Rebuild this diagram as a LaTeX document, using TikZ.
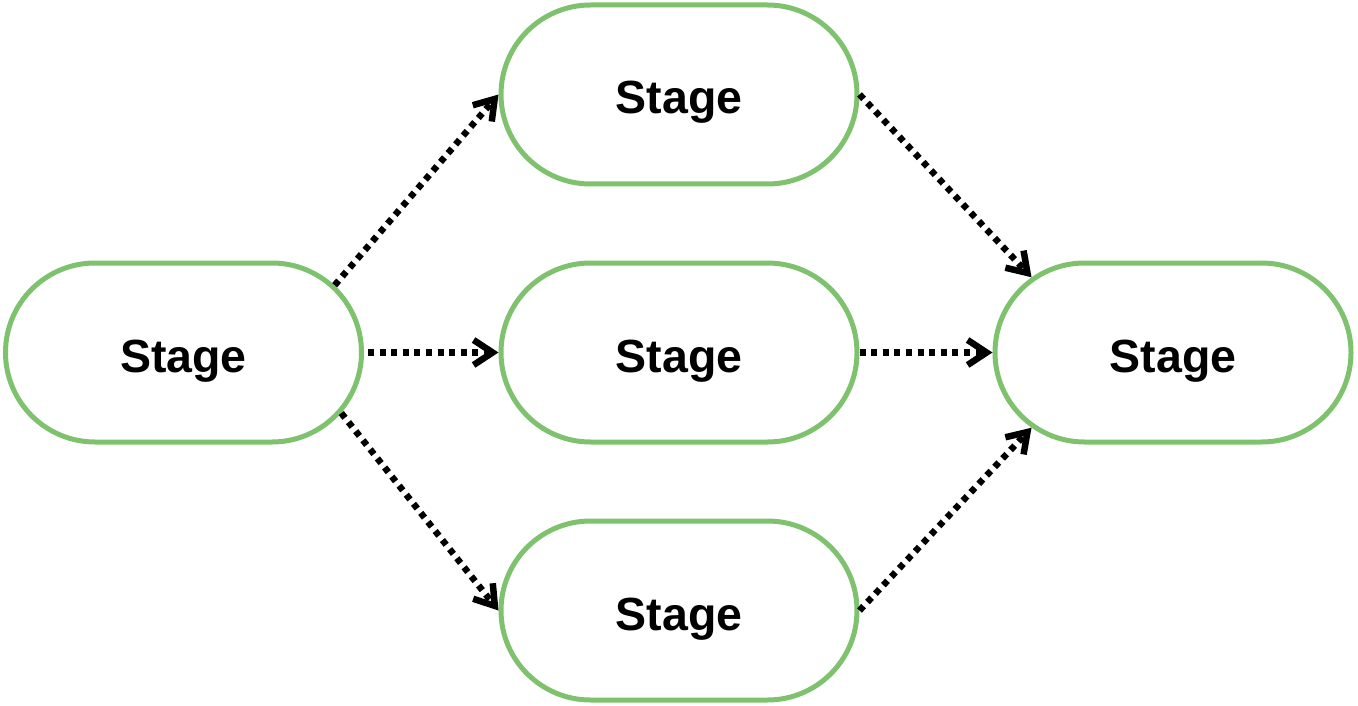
\documentclass[tikz,border=0pt]{standalone}
\usepackage{fontspec}
\setmainfont{Liberation Sans}
\usetikzlibrary{shapes.misc,arrows.meta}
\definecolor{stagegreen}{RGB}{126,194,110}
\begin{document}
\begin{tikzpicture}[x=1pt,y=-1pt,
  stagebox/.style={rounded rectangle, draw=stagegreen, line width=5pt, fill=white,
    minimum width=356pt, minimum height=179pt, inner sep=0pt,
    text height=39pt, text depth=0pt,
    font=\fontsize{46.5}{50}\selectfont\bfseries},
  flow/.style={line width=6.5pt, dash pattern=on 6pt off 5.6pt,
    -{Straight Barb[length=19pt,width=25pt]}}]
\useasboundingbox (0,0) rectangle (1358,706);
\node[stagebox] (L) at (183.5,352.5) {Stage};
\node[stagebox] (T) at (679,94.5) {Stage};
\node[stagebox] (M) at (679,352.5) {Stage};
\node[stagebox] (B) at (679,610.5) {Stage};
\node[stagebox] (R) at (1173,352.5) {Stage};
\draw[flow] (L.24) -- (T.west);
\draw[flow, shorten <=4pt] (L.east) -- (M.west);
\draw[flow] (L.-21) -- (B.west);
\draw[flow] (T.east) -- (R.152);
\draw[flow] (M.east) -- (R.west);
\draw[flow] (B.east) -- (R.208);
\end{tikzpicture}
\end{document}
